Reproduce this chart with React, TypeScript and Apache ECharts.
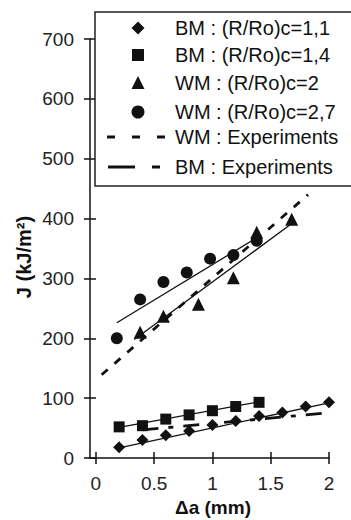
import React, { useEffect, useRef } from "react";
import * as echarts from "echarts";

const xTicks = [0, 0.5, 1, 1.5, 2];

// BM : (R/Ro)c=1,1 (diamonds)
const bm11X = [0.2, 0.4, 0.6, 0.8, 1.0, 1.2, 1.4, 1.6, 1.8, 2.0];
const bm11Y = [18, 30, 38, 45, 55, 62, 70, 76, 86, 93];
const bm11FitX = [0.2, 2.0];
const bm11FitY = [17, 92];

// BM : (R/Ro)c=1,4 (squares)
const bm14X = [0.2, 0.4, 0.6, 0.8, 1.0, 1.2, 1.4];
const bm14Y = [52, 54, 65, 72, 79, 86, 93];
const bm14FitX = [0.2, 1.4];
const bm14FitY = [51, 94];

// WM : (R/Ro)c=2 (triangles)
const wm2X = [0.38, 0.58, 0.88, 1.18, 1.38, 1.68];
const wm2Y = [210, 237, 257, 301, 377, 399];
const wm2FitX = [0.33, 1.69];
const wm2FitY = [198, 393];

// WM : (R/Ro)c=2,7 (circles)
const wm27X = [0.18, 0.38, 0.58, 0.78, 0.98, 1.18, 1.38];
const wm27Y = [200, 265, 294, 310, 333, 339, 363];
const wm27FitX = [0.18, 1.38];
const wm27FitY = [226, 368];

// Experiments
const wmExpX = [0.05, 1.82];
const wmExpY = [139, 440];
const bmExpX = [0.4, 2.02];
const bmExpY = [47, 76];

const legendLabels = [
  "BM : (R/Ro)c=1,1",
  "BM : (R/Ro)c=1,4",
  "WM : (R/Ro)c=2",
  "WM : (R/Ro)c=2,7",
  "WM : Experiments",
  "BM : Experiments",
];

const INK = "#111";
const FONT = "'Liberation Sans', Arial, sans-serif";

const pairs = (xs: number[], ys: number[]) => xs.map((x, i) => [x, ys[i]]);

export default function App() {
  const ref = useRef<HTMLDivElement>(null);
  useEffect(() => {
    if (!ref.current) return;
    const chart = echarts.init(ref.current, undefined, { renderer: "svg" });
    const rowY = [28, 55, 83, 112, 137, 167];
    const mx = 138;
    const legendGraphics: any[] = [
      {
        type: "rect",
        shape: { x: 95, y: 12, width: 270, height: 174 },
        style: { fill: "#fff", stroke: "#222", lineWidth: 1.5 },
        z: 10,
      },
      {
        type: "polygon",
        shape: { points: [[mx, rowY[0] - 6.5], [mx + 6.5, rowY[0]], [mx, rowY[0] + 6.5], [mx - 6.5, rowY[0]]] },
        style: { fill: INK },
        z: 11,
      },
      {
        type: "rect",
        shape: { x: mx - 6, y: rowY[1] - 6, width: 12, height: 12 },
        style: { fill: INK },
        z: 11,
      },
      {
        type: "polygon",
        shape: { points: [[mx, rowY[2] - 7], [mx + 6.5, rowY[2] + 6], [mx - 6.5, rowY[2] + 6]] },
        style: { fill: INK },
        z: 11,
      },
      {
        type: "circle",
        shape: { cx: mx, cy: rowY[3], r: 6.5 },
        style: { fill: INK },
        z: 11,
      },
      {
        type: "line",
        shape: { x1: 107, y1: rowY[4], x2: 165, y2: rowY[4] },
        style: { stroke: INK, lineWidth: 3, lineDash: [8, 17] },
        z: 11,
      },
      {
        type: "line",
        shape: { x1: 108, y1: rowY[5], x2: 135, y2: rowY[5] },
        style: { stroke: INK, lineWidth: 3 },
        z: 11,
      },
      {
        type: "line",
        shape: { x1: 152, y1: rowY[5], x2: 160, y2: rowY[5] },
        style: { stroke: INK, lineWidth: 3 },
        z: 11,
      },
      ...legendLabels.map((t, i) => ({
        type: "text",
        x: 175,
        y: rowY[i],
        style: {
          text: t,
          fill: INK,
          font: `20px ${FONT}`,
          verticalAlign: "middle",
          align: "left",
        },
        z: 11,
      })),
      {
        type: "text",
        x: 24,
        y: 257,
        rotation: Math.PI / 2,
        style: {
          text: "J (kJ/m²)",
          fill: INK,
          font: `bold 20px ${FONT}`,
          align: "center",
          verticalAlign: "middle",
        },
      },
      {
        type: "text",
        x: 213,
        y: 507,
        style: {
          text: "Δa (mm)",
          fill: INK,
          font: `bold 19px ${FONT}`,
          align: "center",
          verticalAlign: "middle",
        },
      },
    ];

    const lineSeries = (xs: number[], ys: number[], type: any, width: number) => ({
      type: "line",
      data: pairs(xs, ys),
      showSymbol: false,
      symbol: "none",
      lineStyle: { color: INK, width, type },
      silent: true,
      z: 2,
    });
    const scatter = (xs: number[], ys: number[], symbol: string, size: number, name: string) => ({
      type: "scatter",
      name,
      data: pairs(xs, ys),
      symbol,
      symbolSize: size,
      itemStyle: { color: INK, opacity: 1 },
      z: 3,
    });

    const xMin = -0.05;
    const xMax = 2;
    chart.setOption({
      animation: false,
      backgroundColor: "#fff",
      grid: { left: 90, right: 22, top: 39, bottom: 62, containLabel: false },
      xAxis: [
        {
          type: "value",
          min: xMin,
          max: xMax,
          position: "bottom",
          axisLine: { show: true, lineStyle: { color: INK, width: 1.5 } },
          axisTick: { show: true, inside: false, length: 6, customValues: xTicks, lineStyle: { color: INK, width: 1.5 } },
          axisLabel: { show: true, customValues: xTicks, color: "#222", fontSize: 19, fontFamily: FONT, margin: 16 },
          splitLine: { show: false },
        },
        {
          type: "value",
          min: xMin,
          max: xMax,
          position: "bottom",
          axisLine: { show: false },
          axisTick: { show: true, inside: true, length: 6, customValues: xTicks, lineStyle: { color: INK, width: 1.5 } },
          axisLabel: { show: false },
          splitLine: { show: false },
        },
      ],
      yAxis: [
        {
          type: "value",
          min: 0,
          max: 700,
          interval: 100,
          position: "left",
          axisLine: { show: true, onZero: false, lineStyle: { color: INK, width: 1.5 } },
          axisTick: { show: true, inside: false, length: 6, lineStyle: { color: INK, width: 1.5 } },
          axisLabel: { color: "#222", fontSize: 19, fontFamily: FONT, margin: 16 },
          splitLine: { show: false },
        },
        {
          type: "value",
          min: 0,
          max: 700,
          interval: 100,
          position: "left",
          axisLine: { show: false, onZero: false },
          axisTick: { show: true, inside: true, length: 6, lineStyle: { color: INK, width: 1.5 } },
          axisLabel: { show: false },
          splitLine: { show: false },
        },
      ],
      series: [
        lineSeries(bm11FitX, bm11FitY, "solid", 1.3),
        lineSeries(bm14FitX, bm14FitY, "solid", 1.3),
        lineSeries(wm2FitX, wm2FitY, "solid", 1.3),
        lineSeries(wm27FitX, wm27FitY, "solid", 1.3),
        lineSeries(wmExpX, wmExpY, [8, 9], 2.8),
        lineSeries(bmExpX, bmExpY, [16, 10, 5, 10], 2.8),
        scatter(bm11X, bm11Y, "diamond", 12, legendLabels[0]),
        scatter(bm14X, bm14Y, "rect", 11, legendLabels[1]),
        scatter(wm2X, wm2Y, "triangle", 13, legendLabels[2]),
        scatter(wm27X, wm27Y, "circle", 12, legendLabels[3]),
      ],
      graphic: legendGraphics,
    });
    return () => chart.dispose();
  }, []);
  return <div ref={ref} style={{ width: 351, height: 520, position: "absolute", left: 0, top: 0 }} />;
}
